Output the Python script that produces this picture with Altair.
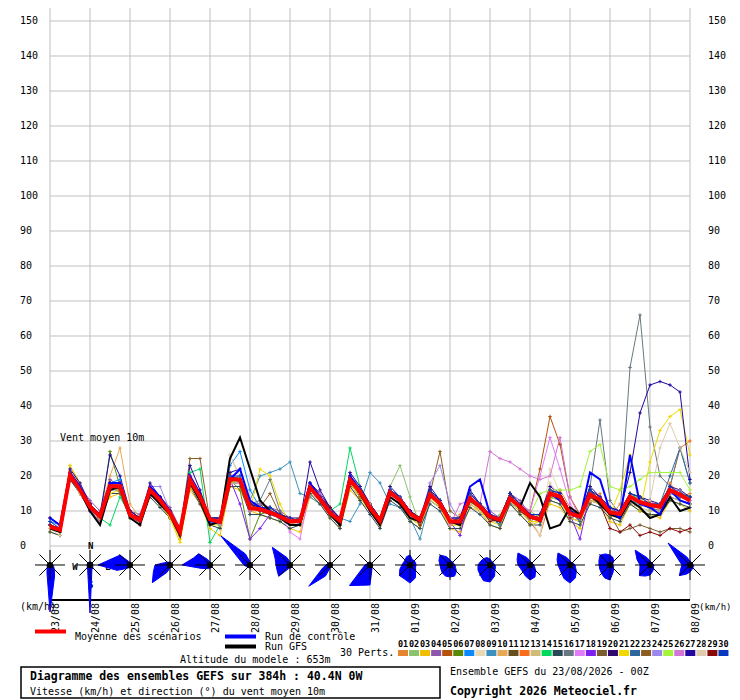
import altair as alt
import pandas as pd

FONT = "DejaVu Sans Mono"

# ---------------- data ----------------
DATE_LABELS = ["23/08", "24/08", "25/08", "26/08", "27/08", "28/08", "29/08", "30/08", "31/08",
               "01/09", "02/09", "03/09", "04/09", "05/09", "06/09", "07/09", "08/09"]
SPEED_TICKS = list(range(0, 151, 10))
STEP_H = 6  # hours between forecast steps

MEAN = [5.5, 4.6, 20.3, 16.0, 11.2, 8.4, 17.1, 17.1, 8.9, 7.4, 16.0, 13.1, 9.4, 4.1, 18.9, 14.1,
        7.6, 6.9, 19.1, 18.9, 10.8, 10.5, 9.6, 8.4, 7.0, 7.2, 16.7, 13.4, 9.5, 7.2, 18.9, 15.5,
        11.0, 7.2, 15.3, 13.1, 9.3, 7.4, 14.6, 12.2, 7.0, 7.0, 13.6, 11.2, 8.4, 7.4, 13.6, 11.2,
        8.4, 7.5, 15.0, 14.1, 9.3, 8.4, 14.7, 13.2, 9.6, 9.1, 14.1, 12.5, 11.7, 11.2, 16.0, 14.6,
        13.0]
CONTROL = [8, 6, 21, 17, 11, 9, 18, 18, 9, 7, 17, 14, 10, 4, 20, 15, 7, 7, 19, 22, 13, 11, 10, 8,
           7, 7, 18, 14, 10, 7, 20, 16, 11, 7, 15, 13, 10, 7, 15, 12, 7, 7, 17, 19, 9, 7, 14, 11,
           9, 7, 15, 13, 10, 8, 21, 19, 10, 8, 26, 12, 11, 9, 16, 13, 12]
GFS = [5, 4, 20, 16, 10, 6, 16, 17, 8, 6, 15, 12, 9, 3, 18, 13, 6, 7, 25, 31, 22, 13, 10, 8,
       6, 6, 17, 13, 9, 6, 19, 15, 10, 6, 14, 12, 8, 7, 15, 12, 7, 6, 13, 11, 8, 7, 14, 11,
       18, 14, 5, 6, 11, 9, 15, 12, 9, 8, 13, 11, 8, 9, 14, 10, 11]

P01 = [5,4,21,17, 12,9,18,16, 8,8,17,12, 10,3,20,15, 6,8,21,18, 12,10,9,9, 6,8,18,13, 11,6,20,14, 10,8,16,12, 8,6,14,13, 6,9,12,10, 9,8,15,12, 7,3,13,16, 11,9,12,15, 8,12,13,11, 13,10,18,14, 15]
P02 = [6,5,19,15, 10,7,16,18, 10,6,15,14, 8,5,17,13, 8,6,18,20, 10,12,11,7, 8,6,15,15, 9,8,17,16, 12,8,17,23, 14,6,13,11, 8,6,12,12, 7,9,12,10, 10,8,16,13, 8,7,16,12, 9,8,15,14, 10,12,15,16, 12]
P03 = [4,3,23,18, 11,9,14,15, 9,7,15,12, 8,2,16,12, 5,3,17,16, 10,9,8,7, 5,4,14,12, 8,5,16,13, 10,6,14,12, 7,5,13,11, 5,4,11,10, 6,5,12,9, 6,7,12,11, 7,5,13,12, 7,6,12,10, 9,8,13,12, 10]
P04 = [6,5,20,17, 13,10,19,17, 10,9,17,14, 11,5,18,15, 8,7,20,19, 10,11,11,10, 8,7,18,15, 10,8,20,17, 12,8,16,14, 10,8,16,13, 8,7,15,12, 10,8,15,13, 9,9,16,15, 10,9,16,14, 11,10,15,14, 12,12,17,15, 14]
P05 = [5,5,21,16, 11,8,16,18, 9,8,16,13, 9,4,19,15, 8,8,20,18, 11,10,10,9, 7,7,16,14, 9,7,18,15, 11,7,15,14, 9,8,14,12, 7,8,13,11, 8,7,13,12, 10,22,37,29, 14,9,13,12, 9,8,13,12, 11,10,14,13, 12]
P06 = [5,5,20,15, 10,7,27,17, 8,7,17,13, 9,4,18,14, 6,8,19,16, 2,9,10,9, 7,8,17,13, 10,6,18,15, 10,7,16,13, 9,7,15,12, 7,7,13,11, 8,7,14,11, 8,8,15,14, 9,8,14,13, 10,9,14,12, 12,11,16,14, 13]
P07 = [7,6,19,16, 12,9,18,19, 9,7,16,13, 10,4,19,14, 7,6,23,27, 16,11,9,8, 7,7,17,13, 9,7,19,15, 10,7,15,13, 9,7,14,12, 7,7,14,11, 8,6,13,11, 8,8,14,13, 9,8,14,13, 10,9,13,12, 11,11,15,14, 13]
P08 = [6,4,20,16, 11,9,17,17, 9,7,15,13, 9,4,19,14, 8,7,26,19, 11,10,10,9, 7,7,16,14, 9,7,19,15, 11,7,15,13, 8,7,15,12, 7,7,14,11, 8,8,13,11, 8,3,22,15, 10,8,15,13, 9,9,14,13, 12,11,16,15, 13]
P09 = [5,4,19,16, 10,8,16,16, 8,7,15,12, 9,5,18,13, 7,6,18,18, 13,20,21,22, 24,15,14,12, 10,8,7,12, 21,18,12,11, 8,2,13,11, 7,6,13,10, 8,7,12,11, 8,7,14,13, 8,7,14,12, 9,8,13,12, 11,10,14,13, 12]
P10 = [5,4,21,15, 12,9,20,28, 12,8,17,14, 10,4,19,15, 7,7,19,20, 11,12,11,9, 7,8,17,14, 10,7,19,16, 11,7,15,13, 10,8,15,12, 8,7,14,11, 8,7,14,12, 9,8,16,14, 9,9,15,13, 10,9,14,13, 12,11,16,15, 14]
P11 = [6,5,19,17, 12,9,18,16, 10,8,15,14, 8,5,18,15, 8,6,20,18, 12,10,11,9, 6,8,16,15, 11,6,18,16, 12,8,14,12, 10,6,16,13, 8,6,13,12, 9,6,15,10, 7,9,14,15, 10,7,16,12, 11,8,15,14, 11,12,15,16, 12]
P12 = [6,5,21,16, 11,9,16,17, 9,7,16,14, 9,3,19,14, 7,8,19,19, 10,11,10,8, 8,7,17,14, 10,8,19,15, 11,7,16,13, 10,8,14,12, 7,7,14,11, 8,7,13,11, 8,8,15,15, 9,9,15,13, 10,9,14,14, 12,12,17,28, 30]
P13 = [5,4,20,15, 11,8,16,16, 9,7,15,12, 9,4,17,13, 7,6,18,18, 10,10,9,8, 6,7,15,13, 9,6,17,14, 10,6,14,12, 8,6,13,11, 6,6,12,10, 7,7,12,10, 8,7,13,12, 8,7,13,12, 9,8,12,11, 10,10,14,13, 12]
P14 = [5,4,20,16, 11,8,6,14, 9,7,16,13, 9,4,21,22, 1,6,19,19, 11,10,10,9, 7,8,17,14, 10,12,28,17, 11,8,16,14, 9,7,15,12, 7,8,14,11, 8,7,14,12, 9,8,15,14, 9,8,15,13, 10,9,15,13, 12,11,16,15, 14]
P15 = [4,3,19,15, 10,7,15,15, 8,6,14,11, 8,3,17,12, 6,5,17,17, 9,9,8,7, 5,6,15,12, 8,5,17,13, 9,5,13,11, 7,5,12,10, 5,5,11,9, 6,5,12,9, 6,6,13,12, 7,6,12,11, 8,7,12,10, 9,9,13,12, 11]
P16 = [6,5,20,16, 11,8,17,17, 9,7,16,13, 9,4,19,14, 7,7,19,19, 12,13,19,10, 6,8,18,13, 9,7,19,15, 10,8,16,12, 9,7,15,12, 6,8,13,12, 9,6,13,12, 8,8,15,14, 9,8,17,36, 13,9,51,66, 34,20,17,28, 18]
P17 = [6,5,19,17, 12,9,17,18, 9,6,16,14, 10,4,18,14, 7,7,20,18, 11,10,10,9, 4,2,16,14, 10,8,19,15, 11,7,15,14, 9,7,16,12, 7,7,14,12, 8,7,14,12, 10,20,31,22, 12,8,14,13, 10,10,14,13, 13,11,17,15, 13]
P18 = [6,5,20,16, 10,9,17,16, 9,8,16,13, 9,4,19,15, 7,7,19,12, 2,5,9,8, 7,7,17,14, 10,7,19,15, 11,7,15,13, 10,7,15,12, 7,3,14,11, 8,7,14,11, 9,8,16,14, 9,2,15,13, 10,9,14,13, 12,11,16,15, 13]
P19 = [5,4,21,15, 12,7,18,15, 10,8,15,12, 8,5,20,13, 8,6,18,20, 12,12,9,9, 8,6,16,15, 9,8,18,14, 12,6,16,12, 10,8,14,13, 8,6,15,10, 9,8,13,12, 7,9,14,15, 10,7,14,12, 9,4,5,6, 5,4,5,5, 4]
P20 = [8,6,21,17, 12,9,18,18, 10,8,17,14, 10,5,20,15, 8,8,20,19, 12,11,10,9, 8,8,18,15, 11,8,20,16, 12,8,16,14, 10,8,16,13, 8,8,15,12, 9,8,15,12, 9,9,16,15, 10,9,16,14, 11,10,15,14, 13,12,17,16, 14]
P21 = [5,4,23,17, 11,8,15,16, 8,6,15,12, 8,1,17,13, 6,6,18,18, 10,22,20,12, 6,6,16,13, 9,6,18,14, 10,6,14,12, 8,6,14,11, 6,6,13,10, 7,6,13,10, 7,7,14,13, 8,7,14,12, 9,16,26,10, 24,33,37,39, 26]
P22 = [6,5,19,16, 11,8,17,18, 9,7,16,14, 10,4,19,14, 7,7,19,20, 10,12,11,9, 7,7,17,14, 11,6,18,16, 11,7,15,13, 8,8,14,13, 7,7,14,11, 9,6,15,10, 8,8,15,14, 10,7,16,12, 10,9,14,13, 12,12,20,28, 18]
P23 = [6,5,20,16, 11,9,16,17, 9,8,16,13, 9,4,25,25, 7,7,19,19, 11,11,15,9, 7,7,17,14, 9,8,20,14, 11,7,15,13, 9,7,15,27, 10,8,13,12, 8,7,14,11, 9,7,16,13, 9,8,15,13, 9,10,13,14, 12,11,16,15, 13]
P24 = [5,5,19,17, 12,9,18,17, 9,7,17,17, 10,5,19,14, 8,6,18,18, 11,11,10,8, 8,6,16,15, 10,7,19,15, 10,8,14,14, 9,7,18,23, 12,7,14,11, 7,8,13,12, 8,8,15,14, 8,9,14,14, 10,9,14,13, 11,12,15,16, 13]
P25 = [5,4,20,15, 11,8,17,16, 9,7,15,13, 9,4,18,14, 7,7,18,19, 11,10,10,8, 7,7,16,14, 10,7,18,15, 11,7,15,13, 9,7,14,12, 7,7,13,11, 8,7,13,11, 9,15,16,16, 16,17,27,29, 17,16,17,19, 21,21,21,21, 16]
P26 = [6,4,21,16, 10,7,16,18, 8,6,17,13, 10,3,20,13, 6,8,20,18, 10,12,11,9, 6,8,16,15, 9,8,20,16, 10,8,16,12, 8,8,14,13, 6,12,13,12, 27,25,24,22, 20,19,20,31, 14,8,15,13, 10,9,14,13, 12,11,16,15, 13]
P27 = [8,6,22,18, 12,9,26,20, 10,8,18,14, 10,5,23,16, 8,8,21,22, 12,11,11,9, 8,7,24,16, 11,8,21,17, 12,8,17,14, 10,8,17,13, 8,8,16,12, 9,8,15,12, 9,9,17,15, 10,9,17,14, 11,10,21,38, 46,47,46,44, 19]
P28 = [5,3,20,15, 11,8,17,17, 9,7,16,13, 9,4,19,14, 7,7,26,20, 11,11,10,8, 6,8,18,13, 10,7,19,15, 12,6,14,14, 9,7,15,12, 8,6,15,10, 9,8,13,12, 8,3,18,14, 9,8,15,13, 10,9,14,13, 13,28,35,28, 21]
P29 = [6,5,19,16, 12,9,18,16, 9,7,16,13, 10,4,18,15, 7,7,19,19, 12,10,9,9, 7,7,17,14, 11,6,18,16, 11,7,15,13, 10,6,16,11, 7,7,14,11, 7,8,15,10, 8,8,15,14, 8,9,14,12, 5,4,6,3, 4,3,5,4, 5]
P30 = [7,5,21,17, 11,9,18,18, 9,8,16,14, 10,5,19,15, 8,8,20,20, 11,11,11,9, 7,8,18,14, 10,8,20,16, 11,8,16,14, 10,7,16,13, 7,8,15,12, 9,8,15,12, 9,9,16,15, 10,9,16,13, 11,9,15,14, 12,12,17,15, 14]

MEMBERS = [P01, P02, P03, P04, P05, P06, P07, P08, P09, P10, P11, P12, P13, P14, P15,
           P16, P17, P18, P19, P20, P21, P22, P23, P24, P25, P26, P27, P28, P29, P30]
MEMBER_IDS = ["%02d" % (i + 1) for i in range(30)]
MEMBER_COLORS = ["#e8832f", "#8bc46c", "#f0c000", "#8c56ac", "#b4520c", "#5a8a08", "#0a88ff",
                 "#e8d8b4", "#3c90c0", "#e8a858", "#64501e", "#f86c1c", "#d0bc78", "#00d860",
                 "#284858", "#687880", "#e07cf8", "#7c20f0", "#7c5c30", "#300870", "#f0d800",
                 "#2c68a0", "#8c5c20", "#9c88ec", "#a4f43c", "#d474d4", "#2008a0", "#e0ccac",
                 "#880808", "#0838c0"]

# wind-direction roses, one per day (00Z), 16 directions clockwise from N
ROSE_DIRS = [0, 22.5, 45, 67.5, 90, 112.5, 135, 157.5, 180, 202.5, 225, 247.5, 270, 292.5, 315, 337.5]
R00 = [3, 2, 2, 2, 3, 4, 6, 12, 47, 8, 4, 3, 3, 2, 2, 2]
R01 = [3, 3, 3, 3, 3, 3, 4, 5, 48, 6, 4, 3, 3, 3, 3, 3]
R02 = [3, 2, 2, 2, 2, 2, 2, 2, 3, 3, 5, 14, 32, 18, 14, 4]
R03 = [3, 2, 2, 2, 2, 2, 2, 2, 3, 8, 25, 18, 15, 6, 4, 3]
R04 = [3, 2, 2, 2, 2, 2, 2, 3, 3, 4, 5, 9, 28, 18, 16, 6]
R05 = [3, 2, 2, 2, 2, 2, 2, 3, 3, 3, 3, 4, 6, 10, 41, 12]
R06 = [3, 2, 2, 2, 2, 2, 2, 3, 3, 4, 16, 14, 14, 16, 25, 8]
R07 = [2, 2, 2, 2, 2, 2, 2, 2, 3, 12, 30, 8, 4, 3, 2, 2]
R08 = [3, 2, 2, 2, 2, 2, 3, 5, 20, 22, 29, 8, 5, 3, 3, 3]
R09 = [10, 6, 6, 6, 6, 6, 8, 14, 18, 15, 15, 11, 8, 7, 7, 9]
R10 = [5, 4, 4, 4, 5, 6, 9, 12, 12, 12, 11, 10, 10, 12, 14, 9]
R11 = [6, 4, 4, 4, 5, 6, 7, 12, 17, 17, 14, 13, 12, 10, 9, 8]
R12 = [4, 3, 3, 3, 4, 5, 8, 13, 15, 12, 10, 10, 12, 14, 17, 8]
R13 = [4, 3, 3, 4, 5, 6, 9, 14, 18, 15, 12, 11, 12, 14, 17, 8]
R14 = [10, 8, 5, 3, 3, 4, 5, 8, 15, 14, 12, 11, 11, 12, 14, 12]
R15 = [4, 3, 3, 3, 4, 4, 5, 7, 10, 12, 15, 11, 10, 14, 21, 8]
R16 = [4, 3, 3, 3, 3, 4, 4, 5, 7, 10, 15, 10, 8, 12, 31, 9]
ROSES = [R00, R01, R02, R03, R04, R05, R06, R07, R08, R09, R10, R11, R12, R13, R14, R15, R16]

# ---------------- layout ----------------
W, H = 640, 592
YMIN, YMAX = -15.43, 153.71
H_PER_PX = 384.0 / W           # hours per pixel
PX_PER_V = H / (YMAX - YMIN)   # pixels per km/h
ROSE_CY = -5.43
SPOKE = 15
GRID = "#c0c0c0"

XS = alt.Scale(domain=[0, 384], nice=False, zero=False)
YS = alt.Scale(domain=[YMIN, YMAX], nice=False, zero=False)
CS = alt.Scale(domain=MEMBER_IDS, range=MEMBER_COLORS)


def X(field):
    return alt.X(field, type="quantitative", scale=XS, axis=None)


def Y(field):
    return alt.Y(field, type="quantitative", scale=YS, axis=None)


rows = []
for mid, vals in zip(MEMBER_IDS, MEMBERS):
    assert len(vals) == 65, mid
    for i, v in enumerate(vals):
        rows.append({"member": mid, "hour": i * STEP_H, "speed": v})
df_m = pd.DataFrame(rows)
assert len(MEAN) == 65 and len(CONTROL) == 65 and len(GFS) == 65
df_main = pd.DataFrame({"hour": [i * STEP_H for i in range(65)], "mean": MEAN,
                        "control": CONTROL, "gfs": GFS})
df_days = pd.DataFrame({"hour": [24 * d for d in range(17)], "date": DATE_LABELS,
                        "cy": [ROSE_CY] * 17})
df_ticks = pd.DataFrame({"v": SPEED_TICKS, "t": [str(v) for v in SPEED_TICKS]})

# grid, frame line, tick labels
vgrid = alt.Chart(df_days).mark_rule(color=GRID, strokeWidth=1).encode(
    x=X("hour"), y=alt.value(0), y2=alt.value(H))
hgrid = alt.Chart(df_ticks).mark_rule(color=GRID, strokeWidth=1).encode(
    y=Y("v"), x=alt.value(0), x2=alt.value(W))
date_labels = alt.Chart(df_days).mark_text(
    angle=270, align="right", baseline="top", font=FONT, fontSize=10, color="black", dy=1
).encode(x=X("hour"), y=alt.value(H + 3), text="date:N")
left_labels = alt.Chart(df_ticks).mark_text(
    align="left", baseline="middle", font=FONT, fontSize=10, color="black").encode(
    x=alt.value(-30), y=Y("v"), text="t:N")
right_labels = alt.Chart(df_ticks).mark_text(
    align="left", baseline="middle", font=FONT, fontSize=10, color="black").encode(
    x=alt.value(W + 18), y=Y("v"), text="t:N")

members_line = alt.Chart(df_m).mark_line(strokeWidth=1).encode(
    x=X("hour"), y=Y("speed"),
    color=alt.Color("member:N", scale=CS, legend=None))
members_pts = alt.Chart(df_m).mark_point(shape="M-1,0L1,0M0,-1L0,1", size=12, filled=False,
                                         strokeWidth=1, opacity=1).encode(
    x=X("hour"), y=Y("speed"),
    color=alt.Color("member:N", scale=CS, legend=None))


def main_line(field, color, width):
    return alt.Chart(df_main).mark_line(color=color, strokeWidth=width).encode(
        x=X("hour"), y=Y(field))


gfs_line = main_line("gfs", "black", 2)
ctl_line = main_line("control", "#0000ff", 2)
mean_line = main_line("mean", "#ff0000", 4)

# roses
rrows = []
for d, radii in enumerate(ROSES):
    for k in range(17):
        rrows.append({"day": d, "hour": 24 * d, "k": k, "ang": ROSE_DIRS[k % 16], "r": radii[k % 16]})
df_rose = pd.DataFrame(rrows)
rose = alt.Chart(df_rose).transform_calculate(
    rx="datum.hour + datum.r*sin(datum.ang*PI/180)*%f" % H_PER_PX,
    ry="%f + datum.r*cos(datum.ang*PI/180)/%f" % (ROSE_CY, PX_PER_V),
).mark_line(fill="#0000ff", stroke="#0000ff", strokeWidth=1).encode(
    x=X("rx"), y=Y("ry"), detail="day:N", order="k:Q")

srows = []
for d in range(17):
    for a in [0, 45, 90, 135]:
        srows.append({"hour": 24 * d, "a": a})
df_sp = pd.DataFrame(srows)
spokes = alt.Chart(df_sp).transform_calculate(
    x1="datum.hour - %d*sin(datum.a*PI/180)*%f" % (SPOKE, H_PER_PX),
    x2="datum.hour + %d*sin(datum.a*PI/180)*%f" % (SPOKE, H_PER_PX),
    y1="%f - %d*cos(datum.a*PI/180)/%f" % (ROSE_CY, SPOKE, PX_PER_V),
    y2="%f + %d*cos(datum.a*PI/180)/%f" % (ROSE_CY, SPOKE, PX_PER_V),
).mark_rule(color="black", strokeWidth=1).encode(
    x=X("x1"), x2="x2:Q", y=Y("y1"), y2="y2:Q")

centers = alt.Chart(df_days).mark_circle(color="black", size=38, opacity=1).encode(
    x=X("hour"), y=Y("cy"))


def label(text, px, py, size=10, bold=False, align="left"):
    return alt.Chart(pd.DataFrame({"t": [text]})).mark_text(
        align=align, baseline="middle", font=FONT, fontSize=size,
        fontWeight="bold" if bold else "normal", color="black").encode(
        x=alt.value(px), y=alt.value(py), text="t:N")


def hline(x1, x2, y, color, width):
    return alt.Chart(pd.DataFrame({"a": [0]})).mark_rule(color=color, strokeWidth=width).encode(
        x=alt.value(x1), x2=alt.value(x2), y=alt.value(y))


bottom_line = hline(0, W, H, "black", 2)

compass_letters = [
    label("E", 58, 559, 9, True, "center"),
    label("N", 40.7, 538, 9, True, "center"),
    label("W", 25, 559, 9, True, "center"),
    label("S", 40.7, 577, 9, True, "center"),
]

texts = [
    label("Vent moyen 10m", 10, 430),
    label("(km/h)", -30, 599),
    label("(km/h)", 649, 599, 9),
    label("Moyenne des scénarios", 25, 629),
    label("Run de contrôle", 215, 629),
    label("Run GFS", 215, 639),
    label("Altitude du modele : 653m", 130, 652),
    label("30 Perts.", 290, 644.5),
    label("Diagramme des ensembles GEFS sur 384h : 40.4N 0W", -20, 669, 11.5, True),
    label("Vitesse (km/h) et direction (°) du vent moyen 10m", -20, 684),
    label("Ensemble GEFS du 23/08/2026 - 00Z", 400, 664),
    label("Copyright 2026 Meteociel.fr", 400, 684, 11.5, True),
]
legend_lines = [
    hline(-15, 16, 623.5, "#ff0000", 4),
    hline(175, 206, 628.5, "#0000ff", 4),
    hline(175, 206, 638.5, "black", 4),
]
box = alt.Chart(pd.DataFrame({"a": [0]})).mark_rect(
    filled=False, stroke="black", strokeWidth=1.5).encode(
    x=alt.value(-29), x2=alt.value(390), y=alt.value(659), y2=alt.value(690))

# perturbation colour legend (swatches under their numbers)
SW_LEFT, SW_STEP, SW_W, SW_TOP, SW_BOT, SW_LBL = 348, 11.05, 10, 642, 648, 635.5
df_sw = pd.DataFrame({"member": MEMBER_IDS, "k": list(range(30))})
swatches = alt.Chart(df_sw).transform_calculate(
    x1="(%f + %f*datum.k)*%f" % (SW_LEFT, SW_STEP, H_PER_PX),
    x2="(%f + %f*datum.k)*%f" % (SW_LEFT + SW_W, SW_STEP, H_PER_PX),
    y1="%f" % (YMAX - SW_TOP / PX_PER_V),
    y2="%f" % (YMAX - SW_BOT / PX_PER_V),
).mark_rect().encode(
    x=X("x1"), x2="x2:Q", y=Y("y1"), y2="y2:Q",
    color=alt.Color("member:N", scale=CS, legend=None))
sw_labels = alt.Chart(df_sw).transform_calculate(
    xl="(%f + %f*datum.k)*%f" % (SW_LEFT + SW_W / 2.0, SW_STEP, H_PER_PX),
    yl="%f" % (YMAX - SW_LBL / PX_PER_V),
).mark_text(font=FONT, fontSize=8.5, fontWeight="bold", color="black",
            align="center", baseline="middle").encode(
    x=X("xl"), y=Y("yl"), text="member:N")

layers = ([vgrid, hgrid, members_line, members_pts, gfs_line, ctl_line, mean_line, bottom_line,
           date_labels, left_labels, right_labels] + compass_letters +
          [rose, spokes, centers] + texts + legend_lines + [box, swatches, sw_labels])

chart = alt.layer(*layers).properties(
    width=W, height=H,
    padding={"left": 42, "top": 0, "right": 42, "bottom": 100},
    autosize=alt.AutoSizeParams(type="none"),
).configure_view(strokeWidth=0)

chart.save("out.html", embed_options={"renderer": "svg", "actions": False})
